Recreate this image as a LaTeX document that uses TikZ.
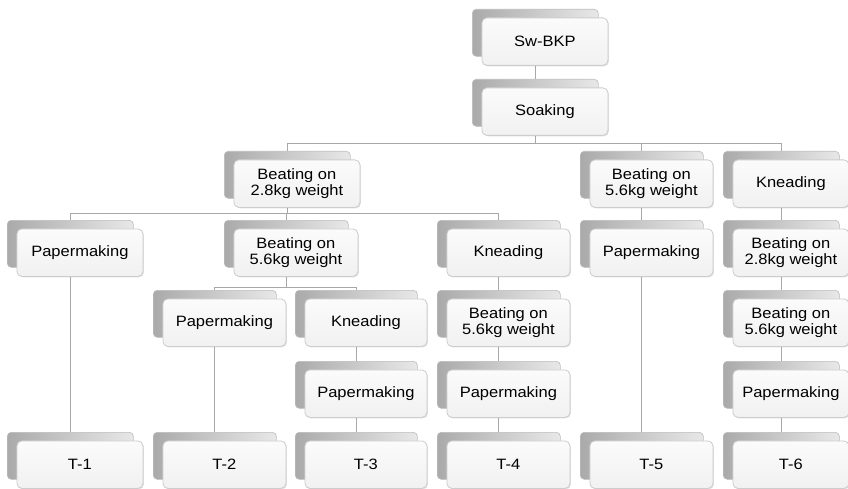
\documentclass[tikz,border=0pt]{standalone}
\usepackage{fontspec}
\setmainfont[FakeStretch=1.1]{Liberation Sans}
\usetikzlibrary{backgrounds,shadows}
\definecolor{bkL}{HTML}{AAAAAA}
\definecolor{bkR}{HTML}{E8E8E8}
\definecolor{bkD}{HTML}{BCBCBC}
\definecolor{frT}{HTML}{FBFBFB}
\definecolor{frB}{HTML}{F1F1F1}
\definecolor{frD}{HTML}{CDCDCD}
\definecolor{lnC}{HTML}{A8A8A8}
\tikzset{
  backbox/.style={rectangle, rounded corners=4pt, draw=bkD, line width=0.6pt,
    left color=bkL, right color=bkR, minimum height=47pt, inner sep=0pt},
  frontbox/.style={rectangle, rounded corners=5pt, draw=frD, line width=0.8pt,
    top color=frT, bottom color=frB, minimum height=47.5pt, inner sep=0pt,
    align=center, font=\fontsize{15}{16.5}\selectfont,
    drop shadow={shadow xshift=1pt, shadow yshift=-1pt, fill=black, opacity=0.12}},
  conn/.style={draw=lnC, line width=0.9pt}
}
\newcommand\bx[5]{%
  \node[backbox, minimum width=#4pt, anchor=north west] (#1) at (#2,#3) {};
  \node[frontbox, minimum width=#4pt, anchor=north west, xshift=9.5pt, yshift=-8.5pt] (#1f) at (#1.north west) {#5};
}
\begin{document}
\begin{tikzpicture}[x=1pt,y=-1pt]
\useasboundingbox (0,0) rectangle (848,489);
% row A/B
\bx{swbkp}{472}{9}{126}{Sw-BKP}
\bx{soak}{472}{79}{126}{Soaking}
% row C
\bx{btA}{224}{151}{126}{Beating on\\2.8kg weight}
\bx{btE}{580}{151}{123}{Beating on\\5.6kg weight}
\bx{knF}{723}{151}{116}{Kneading}
% row D
\bx{pmA}{7}{220}{126}{Papermaking}
\bx{btB}{224}{220}{124}{Beating on\\5.6kg weight}
\bx{knD}{437}{220}{123}{Kneading}
\bx{pmE}{580}{220}{123}{Papermaking}
\bx{btF}{723}{220}{116}{Beating on\\2.8kg weight}
% row E
\bx{pmB}{153}{290}{123}{Papermaking}
\bx{knC}{295}{290}{122}{Kneading}
\bx{btD}{437}{290}{123}{Beating on\\5.6kg weight}
\bx{btG}{723}{290}{116}{Beating on\\5.6kg weight}
% row F
\bx{pmC}{295}{361}{122}{Papermaking}
\bx{pmD}{437}{361}{123}{Papermaking}
\bx{pmF}{723}{361}{116}{Papermaking}
% row G
\bx{tA}{7}{432}{126}{T-1}
\bx{tB}{153}{432}{123}{T-2}
\bx{tC}{295}{432}{122}{T-3}
\bx{tD}{437}{432}{123}{T-4}
\bx{tE}{580}{432}{123}{T-5}
\bx{tF}{723}{432}{116}{T-6}
\begin{scope}[on background layer]
\fill[white] (0,0) rectangle (848,489);
\draw[conn] (swbkp.south) -- (soak.north);
\draw[conn] (soak.south) -- ++(0,17) -| (btA.north);
\draw[conn] (soak.south) -- ++(0,17) -| (btE.north);
\draw[conn] (soak.south) -- ++(0,17) -| (knF.north);
\draw[conn] (btA.south) -- ++(0,15) -| (pmA.north);
\draw[conn] (btA.south) -- ++(0,15) -| (btB.north);
\draw[conn] (btA.south) -- ++(0,15) -| (knD.north);
\draw[conn] (btB.south) -- ++(0,20) -| (pmB.north);
\draw[conn] (btB.south) -- ++(0,20) -| (knC.north);
\draw[conn] (pmA.south) -- (tA.north);
\draw[conn] (pmB.south) -- (tB.north);
\draw[conn] (knC.south) -- (pmC.north);
\draw[conn] (pmC.south) -- (tC.north);
\draw[conn] (knD.south) -- (btD.north);
\draw[conn] (btD.south) -- (pmD.north);
\draw[conn] (pmD.south) -- (tD.north);
\draw[conn] (btE.south) -- (pmE.north);
\draw[conn] (pmE.south) -- (tE.north);
\draw[conn] (knF.south) -- (btF.north);
\draw[conn] (btF.south) -- (btG.north);
\draw[conn] (btG.south) -- (pmF.north);
\draw[conn] (pmF.south) -- (tF.north);
\end{scope}
\end{tikzpicture}
\end{document}
